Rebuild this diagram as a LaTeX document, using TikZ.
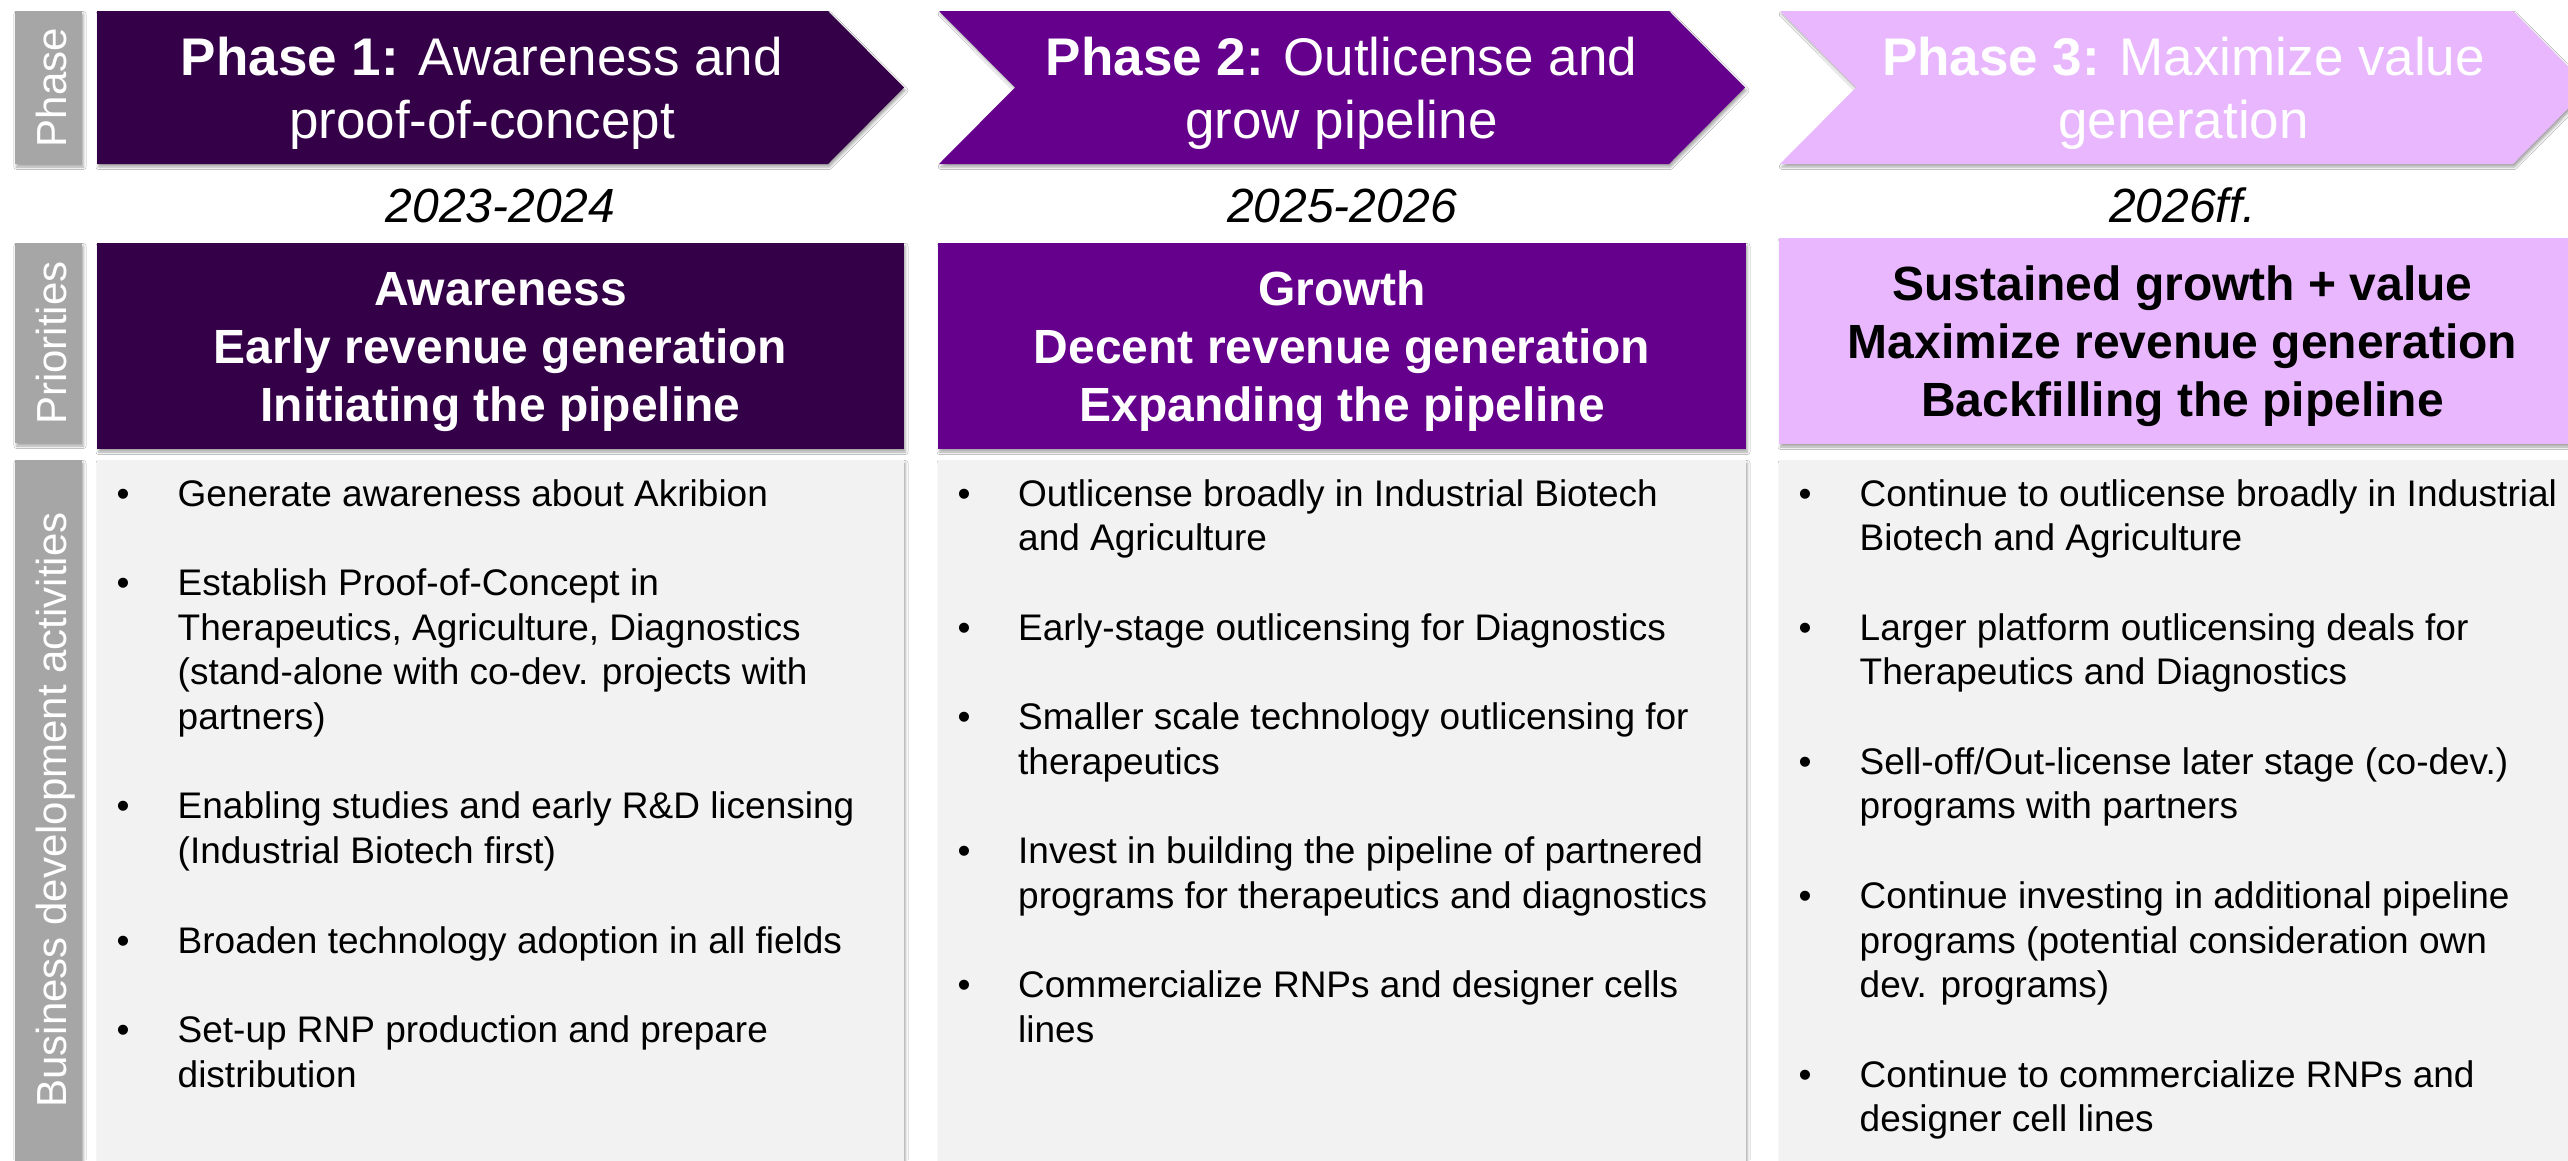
\documentclass[tikz,border=0pt]{standalone}
\usepackage{fontspec}
\setmainfont{Liberation Sans}
\usetikzlibrary{shadows.blur}

\definecolor{phaseone}{HTML}{340047}
\definecolor{phasetwo}{HTML}{65008C}
\definecolor{phasethree}{HTML}{E8B7FD}
\definecolor{sidegray}{HTML}{A6A6A6}
\definecolor{actfill}{HTML}{F2F2F2}

% one bullet item: name, bullet x, text x, first baseline y, lines
\newcommand{\actitem}[5]{%
  \node[bulletmark] (#1b) at (#2,#4) {\textbullet};
  \node[itemtext] (#1) at (#3,#4) {\begin{tabular}[t]{@{}l@{}}#5\end{tabular}};
}

\begin{document}
\begin{tikzpicture}[x=1pt,y=-1pt,
  softshadow/.style={blur shadow={shadow xshift=1.5pt, shadow yshift=-3pt,
      shadow blur radius=2.5pt, shadow opacity=35}},
  sidebox/.style={fill=sidegray, draw=none, inner sep=0pt, softshadow},
  sidetext/.style={rotate=90, anchor=base, inner sep=0pt, text=white,
      font=\fontsize{42}{50}\selectfont},
  panel/.style={draw=none, inner sep=0pt, softshadow},
  phasetext/.style={anchor=base, inner sep=0pt,
      font=\fontsize{53}{63.6}\selectfont},
  yeartext/.style={anchor=base, inner sep=0pt,
      font=\fontsize{48}{57.6}\selectfont\itshape},
  priotext/.style={anchor=base, inner sep=0pt,
      font=\fontsize{48}{58}\selectfont\bfseries},
  bulletmark/.style={anchor=base, inner sep=0pt,
      font=\fontsize{37}{44.7}\selectfont},
  itemtext/.style={anchor=base west, inner sep=0pt,
      font=\fontsize{37}{44.7}\selectfont},
]
\useasboundingbox (0,0) rectangle (2568,1160);
\fill[white] (0,0) rectangle (2568,1160);

% ---- row labels on the left
\node[sidebox, minimum width=67pt, minimum height=153pt] (sphase) at (48.5,87.5) {};
\node[sidetext] (sphaset) at (66,87.5) {Phase};
\node[sidebox, minimum width=67pt, minimum height=200pt] (sprio) at (48.5,343) {};
\node[sidetext] (spriot) at (66,343) {Priorities};
\node[sidebox, minimum width=67pt, minimum height=720pt] (sbd) at (48.5,820) {};
\node[sidetext] (sbdt) at (66,810) {Business development activities};

% ---- phase chevrons
\fill[phaseone, softshadow] (97,11) -- (828,11) -- (904,87.5) -- (828,164) -- (97,164) -- cycle;
\fill[phasetwo, softshadow] (939,11) -- (1669,11) -- (1745,87.5) -- (1669,164) -- (939,164) -- (1015,87.5) -- cycle;
\fill[phasethree, softshadow] (1780,11) -- (2513,11) -- (2589,87.5) -- (2513,164) -- (1780,164) -- (1856,87.5) -- cycle;

\node[phasetext, text=white] (ph1) at (482,75)
  {\begin{tabular}[t]{@{}c@{}}\textbf{Phase 1:} Awareness and\\proof-of-concept\end{tabular}};
\node[phasetext, text=white] (ph2) at (1341.5,75)
  {\begin{tabular}[t]{@{}c@{}}\textbf{Phase 2:} Outlicense and\\grow pipeline\end{tabular}};
\node[phasetext, text=white] (ph3) at (2183.5,75)
  {\begin{tabular}[t]{@{}c@{}}\textbf{Phase 3:} Maximize value\\generation\end{tabular}};

% ---- years
\node[yeartext] (yr1) at (500.5,222) {2023-2024};
\node[yeartext] (yr2) at (1342,222) {2025-2026};
\node[yeartext] (yr3) at (2182.5,222) {2026ff.};

% ---- priorities
\node[panel, fill=phaseone, minimum width=807pt, minimum height=206pt] (pr1) at (500.5,346) {};
\node[panel, fill=phasetwo, minimum width=808pt, minimum height=206pt] (pr2) at (1342,346) {};
\node[panel, fill=phasethree, minimum width=807pt, minimum height=206pt] (pr3) at (2182.5,341) {};

\node[priotext, text=white] (pr1t) at (500.5,305)
  {\begin{tabular}[t]{@{}c@{}}Awareness\\Early revenue generation\\Initiating the pipeline\end{tabular}};
\node[priotext, text=white] (pr2t) at (1342,305)
  {\begin{tabular}[t]{@{}c@{}}Growth\\Decent revenue generation\\Expanding the pipeline\end{tabular}};
\node[priotext, text=black] (pr3t) at (2182.5,300)
  {\begin{tabular}[t]{@{}c@{}}Sustained growth + value\\Maximize revenue generation\\Backfilling the pipeline\end{tabular}};

% ---- business development activities
\node[panel, fill=actfill, minimum width=807pt, minimum height=720pt] (ac1) at (500.5,820) {};
\node[panel, fill=actfill, minimum width=808pt, minimum height=720pt] (ac2) at (1342,820) {};
\node[panel, fill=actfill, minimum width=807pt, minimum height=720pt] (ac3) at (2182.5,820) {};

% column 1
\actitem{a1i}{123}{177.5}{506}{Generate awareness about Akribion}
\actitem{a1ii}{123}{177.5}{595.4}{Establish Proof-of-Concept in\\Therapeutics, Agriculture, Diagnostics\\(stand-alone with co-dev. projects with\\partners)}
\actitem{a1iii}{123}{177.5}{818.9}{Enabling studies and early R\&D licensing\\(Industrial Biotech first)}
\actitem{a1iv}{123}{177.5}{953}{Broaden technology adoption in all fields}
\actitem{a1v}{123}{177.5}{1042.4}{Set-up RNP production and prepare\\distribution}

% column 2
\actitem{a2i}{964}{1018}{506}{Outlicense broadly in Industrial Biotech\\and Agriculture}
\actitem{a2ii}{964}{1018}{640.1}{Early-stage outlicensing for Diagnostics}
\actitem{a2iii}{964}{1018}{729.5}{Smaller scale technology outlicensing for\\therapeutics}
\actitem{a2iv}{964}{1018}{863.6}{Invest in building the pipeline of partnered\\programs for therapeutics and diagnostics}
\actitem{a2v}{964}{1018}{997.7}{Commercialize RNPs and designer cells\\lines}

% column 3
\actitem{a3i}{1805}{1859.5}{506}{Continue to outlicense broadly in Industrial\\Biotech and Agriculture}
\actitem{a3ii}{1805}{1859.5}{640.1}{Larger platform outlicensing deals for\\Therapeutics and Diagnostics}
\actitem{a3iii}{1805}{1859.5}{774.2}{Sell-off/Out-license later stage (co-dev.)\\programs with partners}
\actitem{a3iv}{1805}{1859.5}{908.3}{Continue investing in additional pipeline\\programs (potential consideration own\\dev. programs)}
\actitem{a3v}{1805}{1859.5}{1087.1}{Continue to commercialize RNPs and\\designer cell lines}

\end{tikzpicture}
\end{document}
